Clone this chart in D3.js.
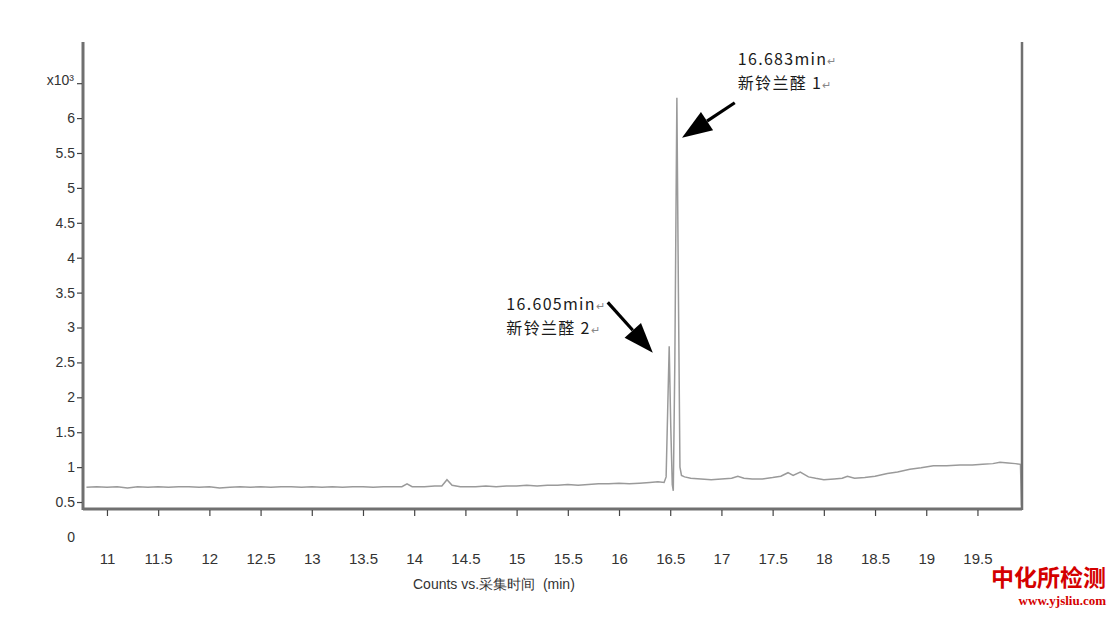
<!DOCTYPE html>
<html>
<head>
<meta charset="utf-8">
<script src="https://cdn.jsdelivr.net/npm/d3@7"></script>
<style>
  html, body { margin: 0; padding: 0; background: #fff; }
  svg { display: block; }
</style>
</head>
<body>
<svg id="chart" width="1108" height="628"></svg>
<script>
// ---- data (time in min, counts in x10^3) ----
const times = [
  10.80, 10.90, 11.00, 11.10, 11.20, 11.30, 11.40, 11.50, 11.60, 11.70, 11.80, 11.90,
  12.00, 12.10, 12.20, 12.30, 12.40, 12.50, 12.60, 12.70, 12.80, 12.90, 13.00, 13.10,
  13.20, 13.30, 13.40, 13.50, 13.60, 13.70, 13.80, 13.88, 13.93, 13.98, 14.10, 14.20,
  14.27, 14.32, 14.37, 14.45, 14.60, 14.70, 14.80, 14.90, 15.00, 15.10, 15.20, 15.30,
  15.40, 15.50, 15.60, 15.70, 15.80, 15.90, 16.00, 16.10, 16.20, 16.30, 16.38, 16.44,
  16.46, 16.475, 16.49, 16.505, 16.52, 16.53, 16.545, 16.565, 16.58, 16.595, 16.61, 16.64,
  16.70, 16.80, 16.90, 17.00, 17.10, 17.16, 17.22, 17.30, 17.40, 17.50, 17.58, 17.65,
  17.70, 17.77, 17.85, 17.92, 18.00, 18.10, 18.18, 18.23, 18.30, 18.40, 18.50, 18.62,
  18.72, 18.84, 18.95, 19.07, 19.20, 19.33, 19.45, 19.55, 19.65, 19.72, 19.80, 19.87,
  19.92, 19.93
];
const counts = [
  0.71, 0.72, 0.71, 0.72, 0.70, 0.72, 0.71, 0.72, 0.71, 0.72, 0.72, 0.71,
  0.72, 0.70, 0.71, 0.72, 0.71, 0.72, 0.71, 0.72, 0.72, 0.71, 0.72, 0.71,
  0.72, 0.71, 0.72, 0.72, 0.71, 0.72, 0.72, 0.72, 0.76, 0.72, 0.72, 0.73,
  0.73, 0.82, 0.74, 0.72, 0.72, 0.73, 0.72, 0.73, 0.73, 0.74, 0.73, 0.74,
  0.74, 0.75, 0.74, 0.75, 0.76, 0.76, 0.77, 0.76, 0.77, 0.78, 0.79, 0.78,
  0.86, 1.80, 2.73, 1.60, 0.75, 0.66, 2.50, 6.29, 3.50, 1.00, 0.88, 0.86,
  0.84, 0.83, 0.82, 0.83, 0.84, 0.87, 0.84, 0.83, 0.83, 0.85, 0.87, 0.92,
  0.88, 0.93, 0.86, 0.84, 0.82, 0.83, 0.84, 0.87, 0.84, 0.85, 0.87, 0.91,
  0.93, 0.97, 0.99, 1.02, 1.02, 1.03, 1.03, 1.04, 1.05, 1.07, 1.06, 1.05,
  1.04, 0.45
];
const xTicks = [11, 11.5, 12, 12.5, 13, 13.5, 14, 14.5, 15, 15.5, 16, 16.5, 17, 17.5, 18, 18.5, 19, 19.5];
const yTicks = [0.5, 1, 1.5, 2, 2.5, 3, 3.5, 4, 4.5, 5, 5.5, 6, 6.5];
const yTickLabels = ["0.5", "1", "1.5", "2", "2.5", "3", "3.5", "4", "4.5", "5", "5.5", "6", "x10³"];
const xTitle = "Counts vs.采集时间  (min)";
// annotations: label lines, text anchor (t, v), arrow tail (t, v), arrow tip (t, v)
const annoLabels1 = ["16.683min", "新铃兰醛 1"];
const annoLabels2 = ["16.605min", "新铃兰醛 2"];
const annoText = [[17.16, 6.76], [14.90, 3.25]];
const arrowTail = [[17.13, 6.22], [15.89, 3.36]];
const arrowTip  = [[16.615, 5.72], [16.33, 2.64]];

// ---- scales ----
const svg = d3.select("#chart");
const x = d3.scaleLinear().domain([10.766, 19.935]).range([83, 1022]);
const y = d3.scaleLinear().domain([0.4, 7.09]).range([509, 42]);

const axisColor = "#707070";
const labelFont = "Arial, 'Liberation Sans', sans-serif";

// ---- trace ----
const pts = times.map((t, i) => [t, counts[i]]);
svg.append("path")
  .datum(pts)
  .attr("fill", "none")
  .attr("stroke", "#9a9a9a")
  .attr("stroke-width", 1.5)
  .attr("d", d3.line().x(d => x(d[0])).y(d => y(d[1])));

// ---- frame ----
const frame = svg.append("g");
frame.append("line").attr("x1", x.range()[0]).attr("x2", x.range()[0])
  .attr("y1", y.range()[1]).attr("y2", y.range()[0] + 1)
  .attr("stroke", axisColor).attr("stroke-width", 3);
frame.append("line").attr("x1", x.range()[0]).attr("x2", x.range()[1])
  .attr("y1", y.range()[0]).attr("y2", y.range()[0])
  .attr("stroke", axisColor).attr("stroke-width", 3);
frame.append("line").attr("x1", x.range()[1]).attr("x2", x.range()[1])
  .attr("y1", y.range()[1]).attr("y2", y.range()[0] + 1)
  .attr("stroke", axisColor).attr("stroke-width", 2.5);

// ---- y axis ----
const gy = svg.append("g").attr("transform", `translate(${x.range()[0] - 1},0)`)
  .call(d3.axisLeft(y).tickValues(yTicks).tickSize(5).tickPadding(2)
    .tickFormat((d, i) => yTickLabels[i]));
gy.select(".domain").remove();
gy.selectAll(".tick line").attr("stroke", "#444").attr("stroke-width", 1.2);
gy.selectAll(".tick text").attr("fill", "#333").attr("font-size", 14).attr("font-family", labelFont);
gy.selectAll(".tick").filter(d => d === 6.5).select("text")
  .attr("font-size", 14).attr("dx", -1).attr("dy", "0.1em");
// "0" label below the axis
svg.append("text").attr("x", x.range()[0] - 8).attr("y", y(0)).attr("dy", "0.35em")
  .attr("text-anchor", "end").attr("fill", "#333").attr("font-size", 14)
  .attr("font-family", labelFont).text("0");

// ---- x axis ----
const gx = svg.append("g").attr("transform", `translate(0,${y.range()[0] + 1})`)
  .call(d3.axisBottom(x).tickValues(xTicks).tickSize(6).tickPadding(37)
    .tickFormat(d => String(d)));
gx.select(".domain").remove();
gx.selectAll(".tick line").attr("stroke", "#444").attr("stroke-width", 1.2);
gx.selectAll(".tick text").attr("fill", "#333").attr("font-size", 15).attr("font-family", labelFont);

svg.append("text").attr("x", 413).attr("y", 589)
  .attr("fill", "#333").attr("font-size", 14).attr("font-family", labelFont)
  .style("white-space", "pre")
  .text(xTitle);

// ---- annotations ----
[annoLabels1, annoLabels2].forEach((lab, i) => {
  const tx = x(annoText[i][0]), ty = y(annoText[i][1]);
  lab.forEach((s, j) => {
    const t = svg.append("text").attr("x", tx).attr("y", ty + j * 24)
      .attr("fill", "#1a1a1a").attr("font-size", 16).attr("letter-spacing", 1.3)
      .attr("font-family", "'Noto Sans CJK SC', 'Noto Sans', sans-serif");
    t.append("tspan").text(s);
    t.append("tspan").attr("fill", "#888").attr("font-size", 11).attr("letter-spacing", 0).text("↵");
  });
  // arrow shaft + head
  const x0 = x(arrowTail[i][0]), y0 = y(arrowTail[i][1]);
  const x1 = x(arrowTip[i][0]), y1 = y(arrowTip[i][1]);
  const ang = Math.atan2(y1 - y0, x1 - x0);
  const headLen = 30, headW = 11;
  const bx = x1 - headLen * Math.cos(ang), by = y1 - headLen * Math.sin(ang);
  svg.append("line").attr("x1", x0).attr("y1", y0).attr("x2", bx).attr("y2", by)
    .attr("stroke", "#000").attr("stroke-width", 3.2);
  const px = -Math.sin(ang), py = Math.cos(ang);
  svg.append("path")
    .attr("d", `M${x1},${y1}L${bx + px * headW},${by + py * headW}L${bx - px * headW},${by - py * headW}Z`)
    .attr("fill", "#000");
});

// ---- watermark ----
svg.append("text").attr("x", 1106).attr("y", 586).attr("text-anchor", "end")
  .attr("fill", "#d40000").attr("font-size", 23).attr("font-weight", "bold")
  .attr("font-family", "'Noto Sans CJK SC', sans-serif").text("中化所检测");
svg.append("text").attr("x", 1106).attr("y", 605).attr("text-anchor", "end")
  .attr("fill", "#d40000").attr("font-size", 13).attr("font-weight", "bold")
  .attr("font-family", "'Liberation Serif', 'DejaVu Serif', serif").text("www.yjsliu.com");
</script>
</body>
</html>
